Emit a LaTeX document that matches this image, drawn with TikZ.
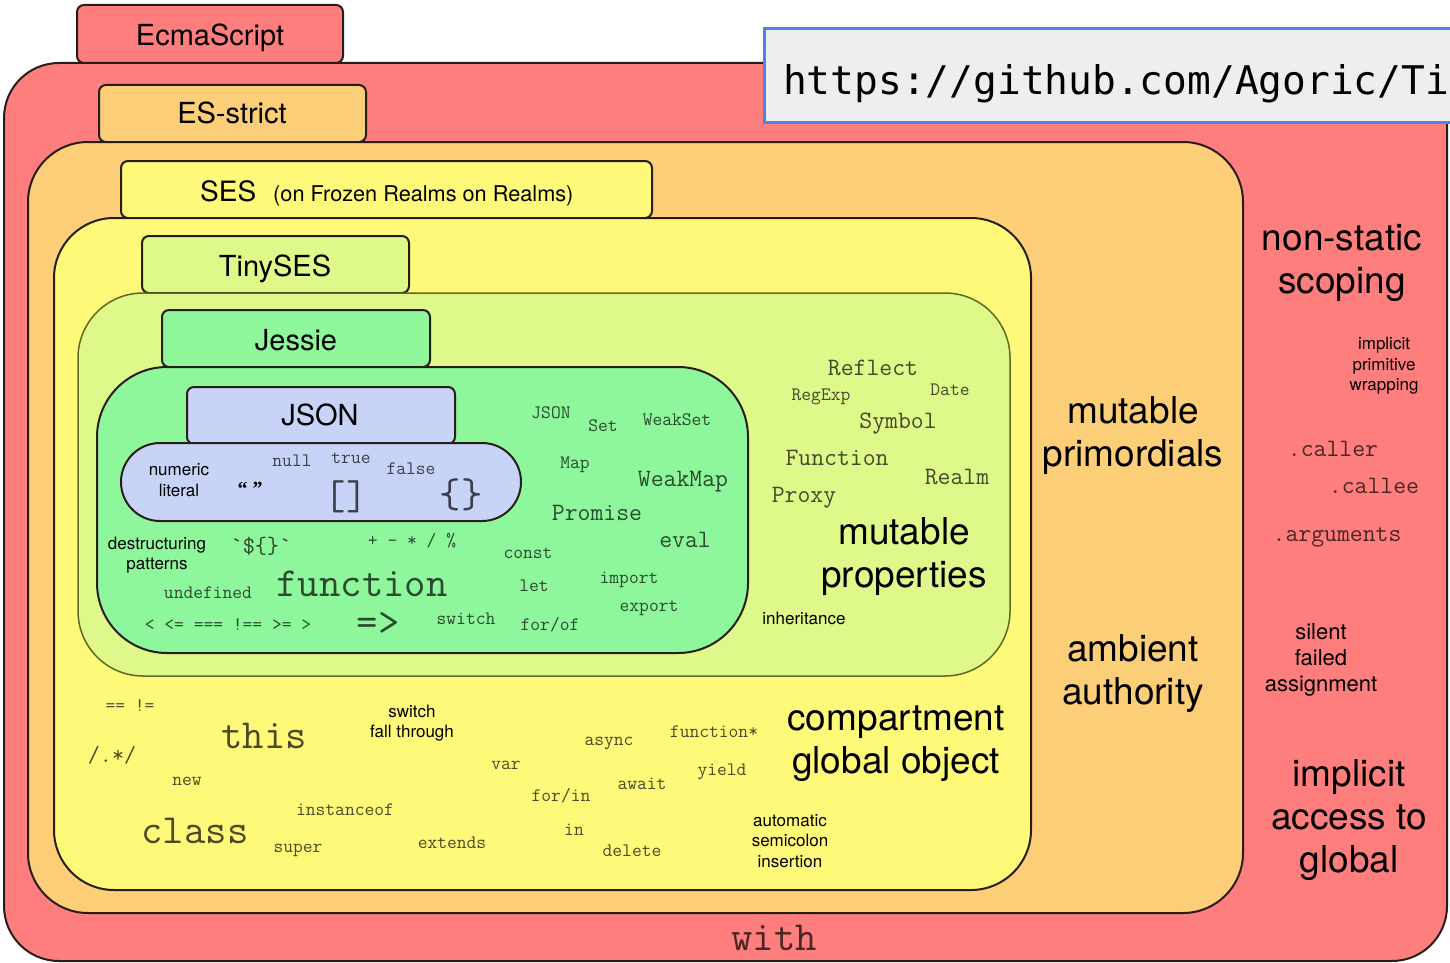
\documentclass[tikz,border=0pt]{standalone}
\usepackage{fontspec}
\setmainfont{TeX Gyre Heros}
\newfontfamily\urlfont{DejaVu Sans Mono}
\newfontfamily\quotefont{Liberation Serif}

\definecolor{ecmared}{RGB}{254,126,126}
\definecolor{strictorange}{RGB}{253,206,120}
\definecolor{sesyellow}{RGB}{255,249,122}
\definecolor{tinygreen}{RGB}{222,249,138}
\definecolor{jessiegreen}{RGB}{142,247,156}
\definecolor{jsonblue}{RGB}{200,212,247}
\definecolor{olive}{RGB}{95,105,35}
\definecolor{urlblue}{RGB}{74,134,232}
\definecolor{urlgray}{RGB}{238,238,238}
\definecolor{edge}{RGB}{40,30,25}

\tikzset{
  region/.style={draw=edge, line width=2pt},
  tabbox/.style={draw=edge, line width=2pt, rounded corners=7pt},
  code/.style={font=\ttfamily\fontsize{19}{21}\selectfont, text=black, text opacity=0.7, inner sep=0pt},
  codem/.style={code, font=\ttfamily\fontsize{25}{28}\selectfont},
  codel/.style={code, font=\ttfamily\fontsize{41.5}{46}\selectfont},
  note/.style={font=\fontsize{17}{20.5}\selectfont, align=center, inner sep=0pt},
  big/.style={font=\fontsize{37}{43}\selectfont, align=center, inner sep=0pt},
  tablabel/.style={font=\fontsize{29}{34}\selectfont, inner sep=0pt, anchor=base},
}

\begin{document}
\begin{tikzpicture}[x=1pt, y=-1pt]
\useasboundingbox (0,0) rectangle (1450,963);
\clip (0,0) rectangle (1450,963);

% EcmaScript
\path[region, fill=ecmared, rounded corners=55pt] (4,63) rectangle (1447,961);
\path[tabbox, fill=ecmared] (77,5) rectangle (343,63);
\node[tablabel] (ecma) at (210,45.5) {EcmaScript};

% ES-strict
\path[tabbox, fill=strictorange] (99,85) rectangle (366,142);
\node[tablabel] (strict) at (232,123.5) {ES-strict};
\path[region, fill=strictorange, rounded corners=60pt] (28,142) rectangle (1243,913);

% SES
\path[tabbox, fill=sesyellow] (121,161) rectangle (652,218);
\node[anchor=base west, inner sep=0pt] (ses) at (200,201)
  {\fontsize{28}{32}\selectfont SES\hspace{17pt}\fontsize{21.7}{26}\selectfont(on Frozen Realms on Realms)};
\path[region, fill=sesyellow, rounded corners=60pt] (54,218) rectangle (1031,890);

% TinySES
\path[tabbox, fill=tinygreen] (142,236) rectangle (409,293);
\node[tablabel] (tiny) at (275,276.5) {TinySES};
\path[draw=olive, line width=1.5pt, fill=tinygreen, rounded corners=65pt] (78,293) rectangle (1010,676);

% Jessie
\path[tabbox, fill=jessiegreen] (162,310) rectangle (430,367);
\node[tablabel] (jessie) at (296,350.5) {Jessie};
\path[region, fill=jessiegreen, rounded corners=70pt] (97,367) rectangle (748,653);

% JSON
\path[tabbox, fill=jsonblue] (187,387) rectangle (455,444);
\node[tablabel] (json) at (320,425.5) {JSON};
\path[region, fill=jsonblue, rounded corners=39pt] (121,443) rectangle (521,521);

% inside JSON
\node[note] (numlit) at (179,480) {numeric\\literal};
\node[inner sep=0pt, font=\quotefont\bfseries\fontsize{20}{22}\selectfont] (quotes) at (250,489) {“ ”};
\node[code] (null) at (292,461) {null};
\node[code] (true) at (351,458) {true};
\node[code] (false) at (411,469) {false};
\node[codel] (arr) at (346,497) {[]};
\node[codel] (obj) at (461,495) {\{\}};

% inside Jessie
\node[code] (jsonobj) at (551,413) {JSON};
\node[code] (set) at (603,426) {Set};
\node[code] (weakset) at (677,420) {WeakSet};
\node[code] (map) at (575,465) {Map};
\node[codem] (weakmap) at (683,482) {WeakMap};
\node[codem] (promise) at (597,513) {Promise};
\node[codem] (eval) at (685,540) {eval};
\node[code] (const) at (528,553) {const};
\node[code] (let) at (534,586) {let};
\node[code] (import) at (629,580) {import};
\node[code] (export) at (649,608) {export};
\node[code] (forof) at (550,625) {for/of};
\node[code] (switch) at (466,619) {switch};
\node[codel] (arrow) at (378,624) {=>};
\node[codel] (function) at (362,584) {function};
\node[code] (undef) at (208,593) {undefined};
\node[code] (compare) at (228,625) {< <= === !== >= >};
\node[note] (destr) at (157,555) {destructuring\\patterns};
\node[code, font=\ttfamily\fontsize{23.6}{26}\selectfont] (template) at (261,546) {`\$\{\}`};
\node[code] (arith) at (412,541) {+ - * / \%};

% inside TinySES
\node[codem] (reflect) at (873,368) {Reflect};
\node[code] (regexp) at (821,397) {RegExp};
\node[code] (date) at (950,390) {Date};
\node[codem] (symbol) at (898,424) {Symbol};
\node[codem] (functionobj) at (837,458) {Function};
\node[codem] (realm) at (957,477) {Realm};
\node[codem] (proxy) at (804,498) {Proxy};
\node[big] (mutprop) at (904,557) {mutable\\properties};
\node[note] (inherit) at (804,618) {inheritance};

% inside SES
\node[code] (looseeq) at (130,706) {== !=};
\node[code, font=\ttfamily\fontsize{23.4}{26}\selectfont] (regex) at (112,755) {/.*/};
\node[codel] (this) at (264,736) {this};
\node[note] (fallthrough) at (412,723) {switch\\fall through};
\node[code] (new) at (187,781) {new};
\node[code] (var) at (506,765) {var};
\node[code] (async) at (609,743) {async};
\node[code] (generator) at (714,732) {function*};
\node[code] (yield) at (722,772) {yield};
\node[code] (await) at (642,784) {await};
\node[code] (forin) at (561,796) {for/in};
\node[code] (instanceof) at (345,810) {instanceof};
\node[codel] (class) at (195,831) {class};
\node[code] (super) at (298,850) {super};
\node[code] (extends) at (452,843) {extends};
\node[code] (in) at (574,830) {in};
\node[code] (delete) at (632,851) {delete};
\node[note] (asi) at (790,841) {automatic\\semicolon\\insertion};
\node[big] (compartment) at (896,744) {compartment\\global object};

% inside ES-strict
\node[big] (mutprim) at (1133,436) {mutable\\primordials};
\node[big] (ambient) at (1133,674) {ambient\\authority};

% inside EcmaScript
\node[big] (nonstatic) at (1342,263) {non-static\\scoping};
\node[note] (wrapping) at (1384,366) {implicit\\primitive\\wrapping};
\node[codem] (caller) at (1333,449) {.caller};
\node[codem] (callee) at (1374,486) {.callee};
\node[codem] (arguments) at (1337,537) {.arguments};
\node[inner sep=0pt, align=center, font=\fontsize{22}{26}\selectfont] (silent) at (1321,660) {silent\\failed\\assignment};
\node[big] (implicitglobal) at (1349,820) {implicit\\access to\\global};
\node[codel] (with) at (774,938) {with};

% repository link
\path[fill=urlgray, draw=urlblue, line width=3pt] (764,29) rectangle (1470,123);
\node[anchor=base west, inner sep=0pt, font=\urlfont\fontsize{39.5}{44}\selectfont] (url) at (783,95) {https://github.com/Agoric/Ti};
\end{tikzpicture}
\end{document}
